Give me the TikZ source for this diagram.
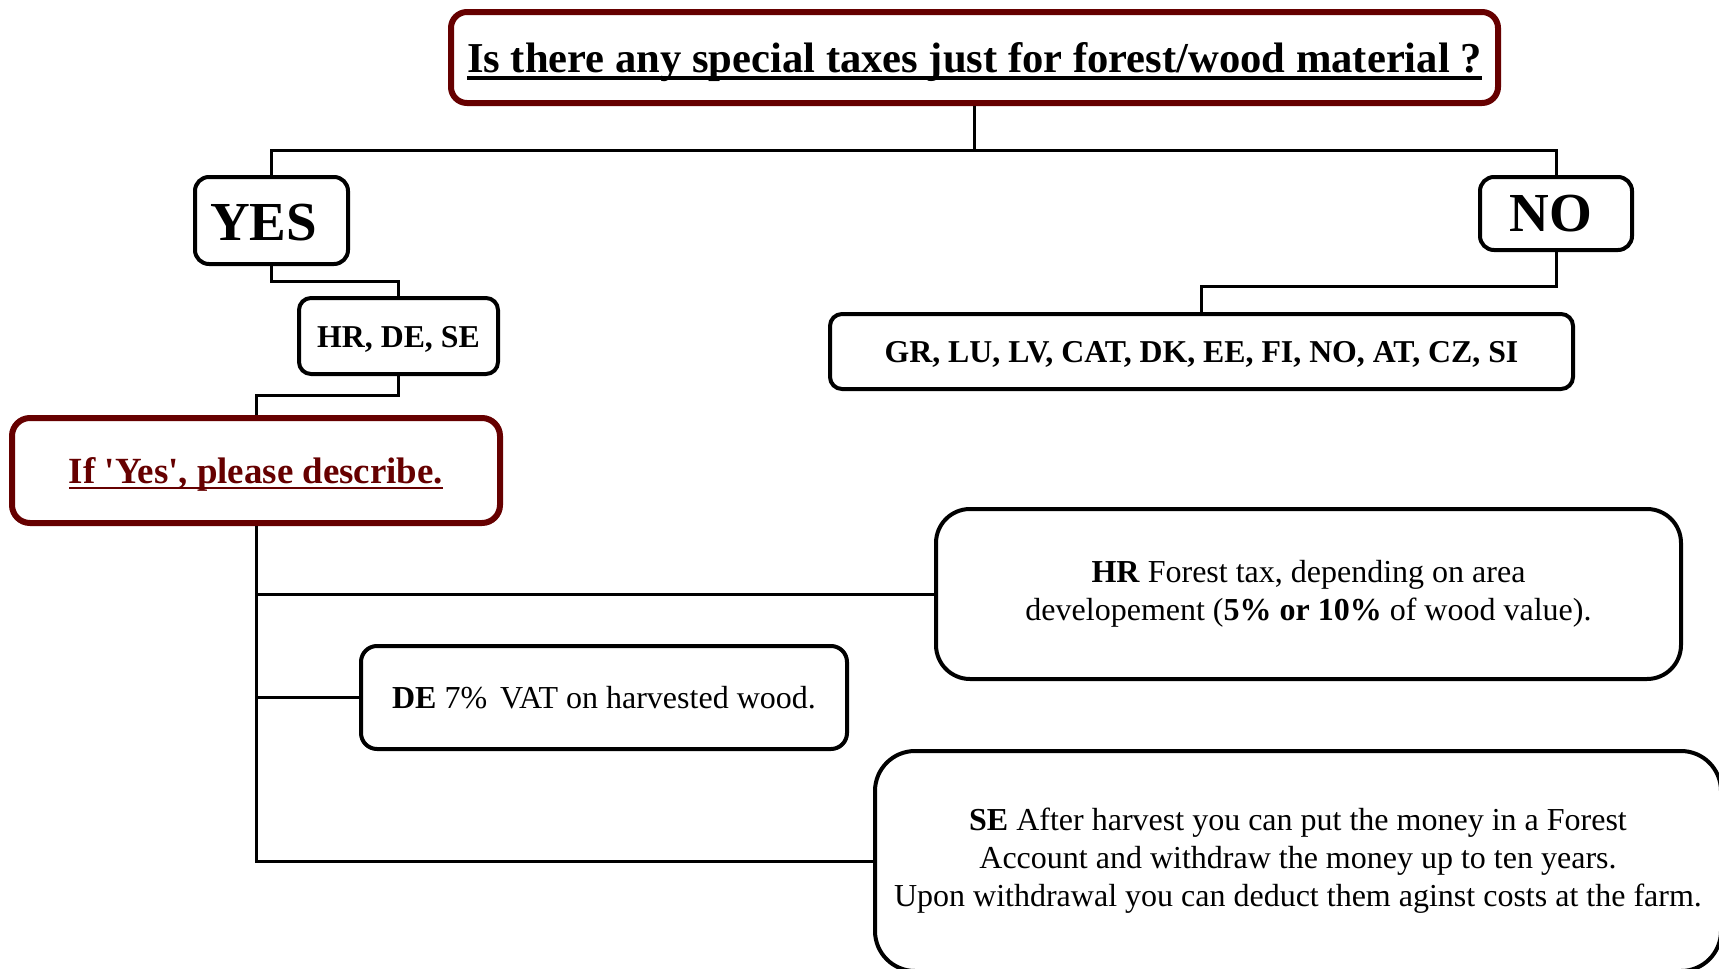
\documentclass[tikz,border=0pt]{standalone}
\usepackage{fontspec}
\setmainfont{Liberation Serif}[Ligatures=TeXOff]
\definecolor{darkred}{RGB}{102,0,0}
\newcommand\myul[3]{\setbox0\hbox{#1}\rlap{\copy0}\rule[#2]{\wd0}{#3}}
\newcommand\fs[2]{\fontsize{#1}{#2}\selectfont}
\newcommand\shiftdown[2]{\raisebox{-#1}[\height][\depth]{#2}}
\tikzset{
  box/.style={draw=black, line width=4pt, rounded corners=14pt, fill=white, align=center, inner sep=0pt},
  redbox/.style={box, draw=darkred, line width=6pt, rounded corners=16pt},
  conn/.style={draw=black, line width=3pt}
}
\begin{document}
\begin{tikzpicture}[x=1pt,y=-1pt]
\clip (0,0) rectangle (1719,969);
\useasboundingbox (0,0) rectangle (1719,969);
\fill[white] (0,0) rectangle (1719,969);
\coordinate (top) at (0,150);
\coordinate (c1) at (0,281);
\coordinate (c2) at (0,395);
\coordinate (c3) at (0,286);
\node[redbox, minimum width=1047pt, minimum height=91pt, font={\fs{42.6}{50}\bfseries}] (title) at (974.5,57.5)
  {\shiftdown{5pt}{\myul{Is there any special taxes just for forest/wood material ?}{-0.16em}{0.085em}}};
\node[box, minimum width=153pt, minimum height=87pt, font={\fs{55}{60}\bfseries}] (yes) at (271.5,220.5)
  {\shiftdown{2pt}{\kern-16pt YES}};
\node[box, minimum width=152pt, minimum height=73pt, font={\fs{55}{60}\bfseries}] (no) at (1556,213.5)
  {\kern-10pt NO};
\node[box, minimum width=199pt, minimum height=76pt, rounded corners=12pt, font={\fs{31.8}{36}\bfseries}] (hrdese) at (398.5,336)
  {\shiftdown{3pt}{HR, DE, SE}};
\node[box, minimum width=743pt, minimum height=75pt, rounded corners=12pt, font={\fs{31.8}{36}\bfseries}] (countries) at (1201.5,351.5)
  {\shiftdown{3pt}{GR, LU, LV, CAT, DK, EE, FI, NO, AT, CZ, SI}};
\node[redbox, minimum width=488pt, minimum height=105pt, rounded corners=18pt, text=darkred, font={\fs{36.9}{42}\bfseries}] (ifbox) at (256,470.5)
  {\shiftdown{4pt}{\myul{If 'Yes', please describe.}{-0.14em}{0.06em}}};
\node[box, minimum width=745pt, minimum height=170pt, rounded corners=34pt, font={\fs{32}{38}}] (hr) at (1308.5,594)
  {\textbf{HR} Forest tax, depending on area\\developement (\textbf{5\% or 10\%} of wood value).};
\node[box, minimum width=486pt, minimum height=103pt, rounded corners=16pt, font={\fs{32}{38}}] (de) at (604,697.5)
  {\textbf{DE} 7\%\hspace{0.4em}VAT on harvested wood.};
\node[box, minimum width=846pt, minimum height=220pt, rounded corners=40pt, font={\fs{32}{38}}] (se) at (1298,861)
  {\textbf{SE} After harvest you can put the money in a Forest\\Account and withdraw the money up to ten years.\\Upon withdrawal you can deduct them aginst costs at the farm.};
\draw[conn] (title.south) -- (title.south |- top) -| (yes.north);
\draw[conn] (title.south |- top) -| (no.north);
\draw[conn] (yes.south) -- (yes.south |- c1) -| (hrdese.north);
\draw[conn] (hrdese.south) -- (hrdese.south |- c2) -| (ifbox.north);
\draw[conn] (no.south) -- (no.south |- c3) -| (countries.north);
\draw[conn] (ifbox.south) |- (hr.west);
\draw[conn] (ifbox.south) |- (de.west);
\draw[conn] (ifbox.south) |- (se.west);
\end{tikzpicture}
\end{document}
